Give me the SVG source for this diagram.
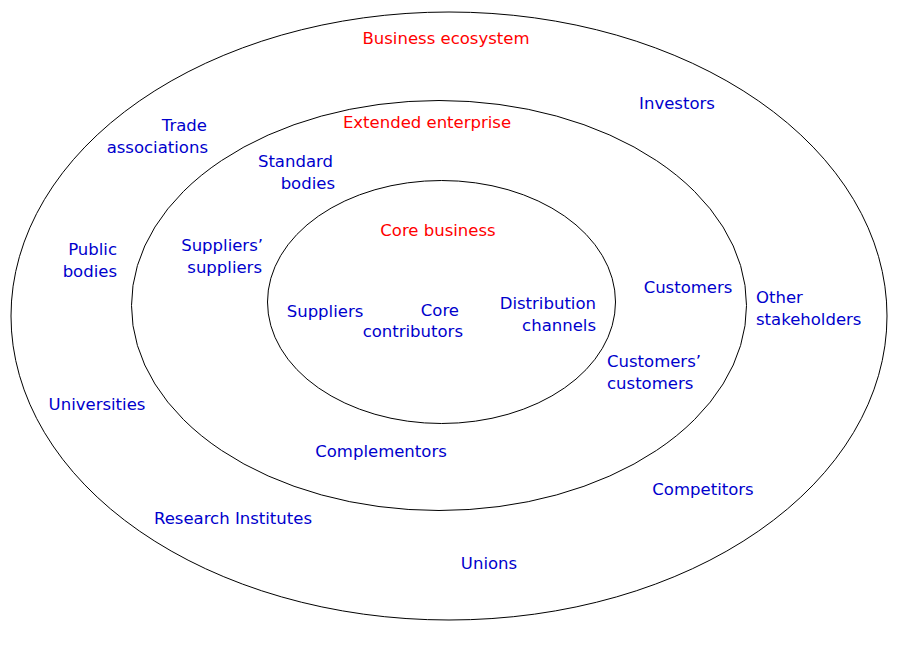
<svg xmlns="http://www.w3.org/2000/svg" width="900" height="650" viewBox="0 0 900 650">
<style>
.ring{fill:none;stroke:#000;stroke-width:1}
text{font-family:"DejaVu Sans",Verdana,sans-serif;font-size:16.5px}
.t{fill:#ff0000}
.n{fill:#0000cc}
.m{text-anchor:middle}
.e{text-anchor:end}
</style>
<rect width="900" height="650" fill="#fff"/>
<g id="rings">
<ellipse id="ecosystem" class="ring" cx="449" cy="316" rx="438" ry="304"/>
<ellipse id="extended" class="ring" cx="439" cy="305.5" rx="307.5" ry="205"/>
<ellipse id="core" class="ring" cx="441.5" cy="302" rx="174" ry="121.5"/>
</g>
<g id="connectors"/>
<g id="title-ecosystem"><text class="t m" x="446" y="44">Business ecosystem</text></g>
<g id="title-extended"><text class="t m" x="427" y="128">Extended enterprise</text></g>
<g id="title-core"><text class="t m" x="438" y="236">Core business</text></g>
<g id="investors"><text class="n m" x="677" y="109">Investors</text></g>
<g id="trade"><text class="n e" x="207" y="131">Trade</text><text class="n e" x="208" y="153">associations</text></g>
<g id="standard"><text class="n e" x="333" y="167">Standard</text><text class="n e" x="335" y="189">bodies</text></g>
<g id="suppsupp"><text class="n e" x="263" y="251">Suppliers’</text><text class="n e" x="262" y="273">suppliers</text></g>
<g id="public"><text class="n e" x="117" y="255">Public</text><text class="n e" x="117" y="277">bodies</text></g>
<g id="customers"><text class="n m" x="688" y="293">Customers</text></g>
<g id="other"><text class="n" x="756" y="303">Other</text><text class="n" x="756" y="325">stakeholders</text></g>
<g id="suppliers"><text class="n m" x="325" y="317">Suppliers</text></g>
<g id="corecontrib"><text class="n e" x="459" y="316">Core</text><text class="n e" x="463" y="337">contributors</text></g>
<g id="distribution"><text class="n e" x="596" y="309">Distribution</text><text class="n e" x="596" y="331">channels</text></g>
<g id="custcust"><text class="n" x="607" y="367">Customers’</text><text class="n" x="607" y="389">customers</text></g>
<g id="universities"><text class="n m" x="97" y="410">Universities</text></g>
<g id="complementors"><text class="n m" x="381" y="457">Complementors</text></g>
<g id="competitors"><text class="n m" x="703" y="495">Competitors</text></g>
<g id="research"><text class="n m" x="233" y="524">Research Institutes</text></g>
<g id="unions"><text class="n m" x="489" y="569">Unions</text></g>
</svg>
